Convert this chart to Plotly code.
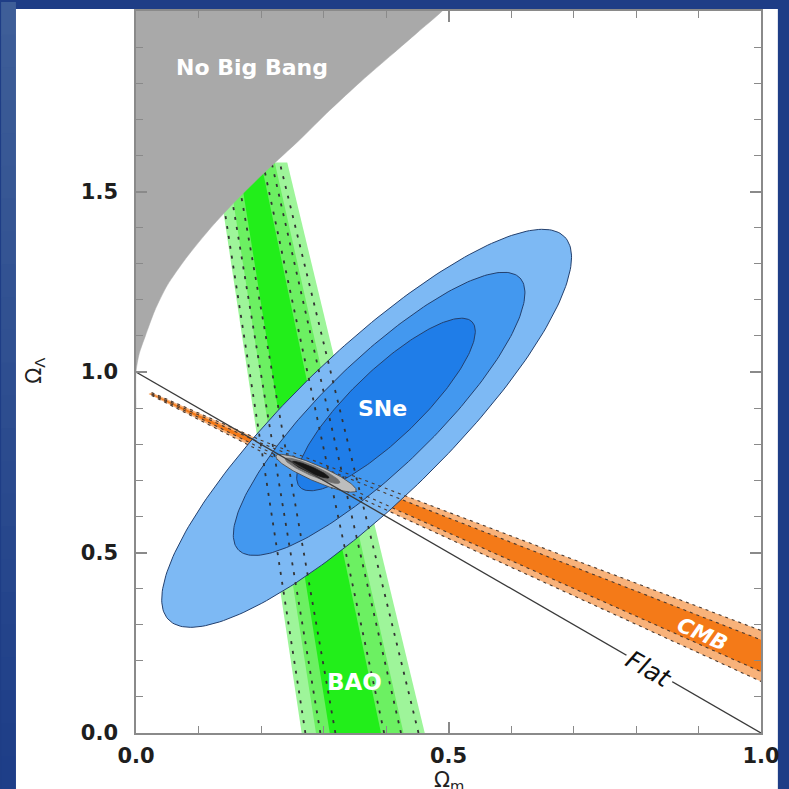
import numpy as np
import plotly.graph_objects as go

# ---------------- data ----------------
x_range = [0.0, 1.0]
y_range = [0.0, 2.0]
x_tickvals = [0.0, 0.5, 1.0]
x_ticktext = ["0.0", "0.5", "1.0"]
y_tickvals = [0.0, 0.5, 1.0, 1.5, 2.0]
y_ticktext = ["0.0", "0.5", "1.0", "1.5", "2.0"]

# "No Big Bang" boundary (Omega_m, Omega_Lambda)
nbb_om = [0.0, 0.005, 0.015, 0.03, 0.05, 0.08, 0.12, 0.16, 0.21, 0.26, 0.31, 0.36, 0.41, 0.45, 0.49]
nbb_ol = [1.0, 1.05, 1.10, 1.17, 1.24, 1.315, 1.40, 1.475, 1.56, 1.64, 1.725, 1.805, 1.88, 1.94, 2.0]

# BAO band: edge positions in Omega_m at Omega_Lambda = bao_y[0], bao_y[1]
bao_y = [0.0, 1.58]
bao_outer_left = [0.265, 0.128]
bao_outer_right = [0.462, 0.242]
bao_mid_left = [0.288, 0.146]
bao_mid_right = [0.428, 0.222]
bao_core_left = [0.310, 0.164]
bao_core_right = [0.392, 0.200]
bao_dash_lines = [[0.271, 0.130], [0.295, 0.144], [0.319, 0.159],
                  [0.397, 0.203], [0.424, 0.217], [0.452, 0.230]]

# CMB band: edges in Omega_Lambda at cmb_x
cmb_tip = [0.02, 0.939]
cmb_x = [0.025, 0.20, 0.42, 1.0]
cmb_outer_hi = [0.943, 0.811, 0.664, 0.284]
cmb_outer_lo = [0.935, 0.780, 0.602, 0.143]
cmb_core_hi = [0.940, 0.803, 0.650, 0.258]
cmb_core_lo = [0.938, 0.789, 0.616, 0.170]

# SNe contours (outer, middle, inner): centre, semi-major vector, semi-minor vector
sne_cx = [0.369, 0.389, 0.400]
sne_cy = [0.844, 0.884, 0.910]
sne_ax = [0.317, 0.2253, 0.1378]
sne_ay = [0.530, 0.3765, 0.2288]
sne_bx = [-0.0837, -0.0606, -0.0379]
sne_by = [0.1516, 0.1098, 0.0692]
sne_colors = ["#7db9f4", "#4398ef", "#1f7de8"]

# combined contour (outer, middle, core)
comb_cx = [0.288, 0.2825, 0.2794]
comb_cy = [0.7196, 0.7265, 0.7293]
comb_ax = [0.0641, 0.0437, 0.0292]
comb_ay = [-0.0483, -0.0329, -0.0219]
comb_bx = [-0.00505, -0.00315, -0.0019]
comb_by = [-0.0203, -0.0127, -0.0076]
comb_colors = ["#bdbdbd", "#6e6e6e", "#151515"]

# flat universe line
flat_x = [0.0, 1.0]
flat_y = [1.0, 0.0]

fig = go.Figure()

def band_polygon(left, right, ys):
    xs = [left[0], left[1], right[1], right[0], left[0]]
    yy = [ys[0], ys[1], ys[1], ys[0], ys[0]]
    return xs, yy

# BAO fills
for left, right, col in [(bao_outer_left, bao_outer_right, "#9ef59a"),
                         (bao_mid_left, bao_mid_right, "#6cf062"),
                         (bao_core_left, bao_core_right, "#22ee1a")]:
    xs, yy = band_polygon(left, right, bao_y)
    fig.add_trace(go.Scatter(x=xs, y=yy, fill="toself", fillcolor=col, mode="none",
                             hoverinfo="skip", showlegend=False))

# CMB fills
for hi, lo, col in [(cmb_outer_hi, cmb_outer_lo, "#f8b27a"),
                    (cmb_core_hi, cmb_core_lo, "#f47a18")]:
    xs = [cmb_tip[0]] + cmb_x + cmb_x[::-1] + [cmb_tip[0]]
    yy = [cmb_tip[1]] + hi + lo[::-1] + [cmb_tip[1]]
    fig.add_trace(go.Scatter(x=xs, y=yy, fill="toself", fillcolor=col, mode="none",
                             hoverinfo="skip", showlegend=False))

# SNe ellipses
t = np.linspace(0, 2 * np.pi, 240)
for i in range(3):
    ex = sne_cx[i] + sne_ax[i] * np.cos(t) + sne_bx[i] * np.sin(t)
    ey = sne_cy[i] + sne_ay[i] * np.cos(t) + sne_by[i] * np.sin(t)
    fig.add_trace(go.Scatter(x=ex, y=ey, fill="toself", fillcolor=sne_colors[i], mode="lines",
                             line=dict(color="#23406e", width=1), hoverinfo="skip", showlegend=False))

# BAO dashed contours
for d in bao_dash_lines:
    fig.add_trace(go.Scatter(x=d, y=bao_y, mode="lines",
                             line=dict(color="#333333", width=1.8, dash="3px,7px"),
                             hoverinfo="skip", showlegend=False))

# CMB dashed contours
for edge in [cmb_outer_hi, cmb_core_hi, cmb_core_lo, cmb_outer_lo]:
    fig.add_trace(go.Scatter(x=cmb_x, y=edge, mode="lines",
                             line=dict(color="#4a3a30", width=1.1, dash="3px,4px"),
                             hoverinfo="skip", showlegend=False))

# combined contour
for i in range(3):
    ex = comb_cx[i] + comb_ax[i] * np.cos(t) + comb_bx[i] * np.sin(t)
    ey = comb_cy[i] + comb_ay[i] * np.cos(t) + comb_by[i] * np.sin(t)
    fig.add_trace(go.Scatter(x=ex, y=ey, fill="toself", fillcolor=comb_colors[i], mode="lines",
                             line=dict(color="#444444" if i == 0 else comb_colors[i], width=0.8),
                             hoverinfo="skip", showlegend=False))

# flat line
fig.add_trace(go.Scatter(x=flat_x, y=flat_y, mode="lines", line=dict(color="#3a3a3a", width=1.3),
                         hoverinfo="skip", showlegend=False))

# No Big Bang region (smooth boundary)
fig.add_trace(go.Scatter(x=[0.0] + nbb_om + [0.6, 0.0], y=[0.9] + nbb_ol + [2.2, 2.2],
                         fill="toself", fillcolor="#a9a9a9", mode="lines",
                         line=dict(color="#a9a9a9", width=0.5, shape="spline", smoothing=0.7),
                         hoverinfo="skip", showlegend=False))

# ---------------- background panels ----------------
def px_to_paper_x(px):
    return (px - 136) / 630.0

def px_to_paper_y(py):
    return (733 - py) / 724.0

shapes = []
n = 24
top_rgb = np.array([62, 94, 152])
bot_rgb = np.array([30, 62, 136])
for k in range(n):
    f = k / (n - 1)
    c = (top_rgb * (1 - f) + bot_rgb * f).astype(int)
    y0 = k * 789 / n
    y1 = (k + 1) * 789 / n + 1
    shapes.append(dict(type="rect", xref="paper", yref="paper", layer="below",
                       x0=px_to_paper_x(0), x1=px_to_paper_x(15),
                       y0=px_to_paper_y(y1), y1=px_to_paper_y(y0),
                       fillcolor="rgb(%d,%d,%d)" % tuple(c), line=dict(width=0)))
shapes.append(dict(type="rect", xref="paper", yref="paper", layer="below",
                   x0=px_to_paper_x(15), x1=px_to_paper_x(783),
                   y0=px_to_paper_y(790), y1=px_to_paper_y(7),
                   fillcolor="white", line=dict(width=0)))

label_font = dict(family="DejaVu Sans", size=22, color="white", weight="bold")
annotations = [
    dict(x=0.186, y=1.843, text="No Big Bang", showarrow=False, font=label_font),
    dict(x=0.395, y=0.900, text="SNe", showarrow=False, font=label_font),
    dict(x=0.349, y=0.141, text="BAO", showarrow=False,
         font=dict(family="DejaVu Sans", size=23, color="white", weight="bold")),
    dict(x=0.905, y=0.273, text="CMB", showarrow=False, textangle=24,
         font=dict(family="DejaVu Sans", size=21, color="white", weight="bold", style="italic")),
    dict(x=0.821, y=0.177, text="Flat", showarrow=False, textangle=29.9, bgcolor="white",
         borderpad=2,
         font=dict(family="DejaVu Sans", size=25, color="#111111", style="italic")),
    dict(xref="paper", yref="paper", x=px_to_paper_x(452), y=px_to_paper_y(781),
         xanchor="center", yanchor="middle",
         text="Ω<sub>m</sub>", showarrow=False,
         font=dict(family="DejaVu Sans", size=21, color="#222222")),
    dict(xref="paper", yref="paper", x=px_to_paper_x(34), y=px_to_paper_y(370),
         xanchor="center", yanchor="middle",
         text="Ω<sub>Λ</sub>", showarrow=False, textangle=-90,
         font=dict(family="DejaVu Sans", size=21, color="#222222")),
]

tickfont = dict(family="DejaVu Sans", size=21, color="#1e1e1e", weight="bold")
axis_common = dict(
    showgrid=False, zeroline=False, showline=True, linecolor="#8a8a8a", linewidth=1.5,
    mirror="ticks", ticks="inside", ticklen=11, tickwidth=1.5, tickcolor="#8a8a8a",
    tickmode="array", tickfont=tickfont,
    minor=dict(tickmode="linear", tick0=0, dtick=0.1, ticks="inside", ticklen=7,
               tickwidth=1.3, tickcolor="#8a8a8a", showgrid=False),
)

fig.update_layout(
    width=789, height=789, autosize=False,
    margin=dict(l=136, r=23, t=9, b=56),
    paper_bgcolor="#1e3d86", plot_bgcolor="white",
    shapes=shapes, annotations=annotations,
    xaxis=dict(range=x_range, tickvals=x_tickvals, ticktext=x_ticktext,
               ticklabelstandoff=3, **axis_common),
    yaxis=dict(range=y_range, tickvals=y_tickvals, ticktext=y_ticktext,
               ticklabelstandoff=12, **axis_common),
    showlegend=False,
)

fig.write_html("out.html")
